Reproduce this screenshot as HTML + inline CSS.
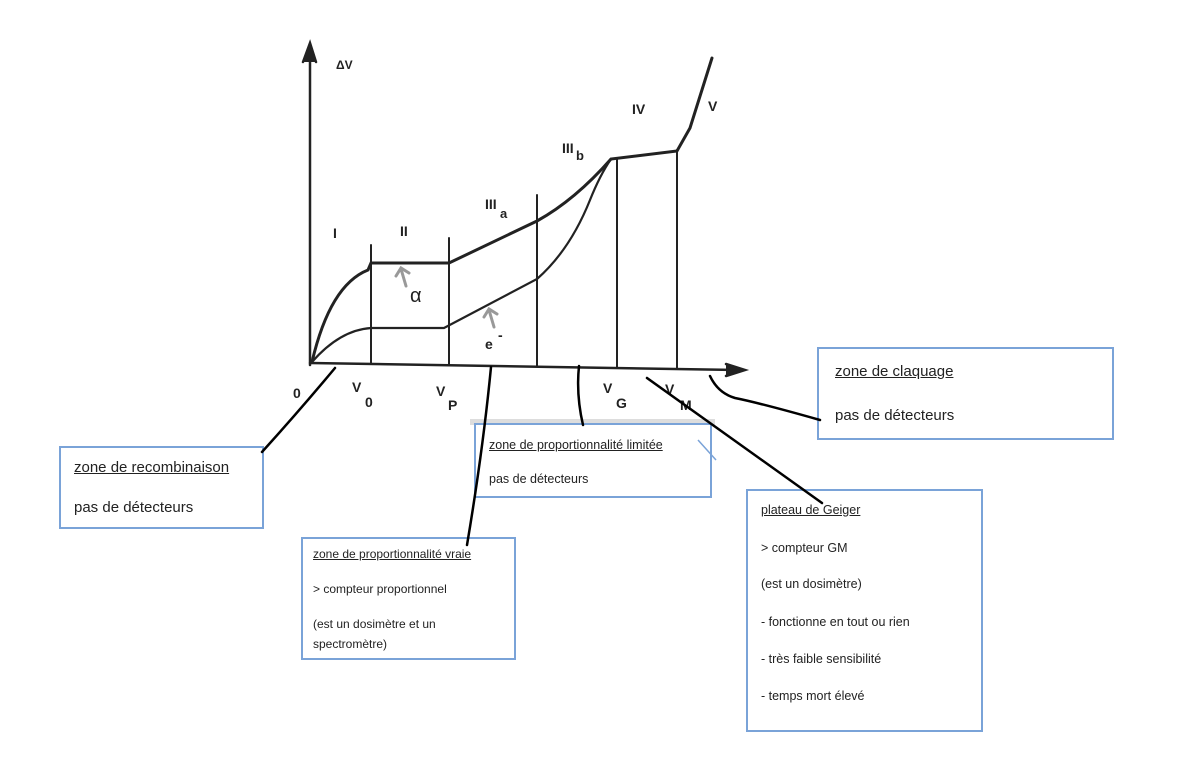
<!DOCTYPE html>
<html><head><meta charset="utf-8"><style>
html,body{margin:0;padding:0;background:#fff;}
body{width:1186px;height:758px;position:relative;overflow:hidden;font-family:"Liberation Sans",sans-serif;}
.b{position:absolute;border:2px solid #7aa3d8;background:#fff;box-sizing:border-box;color:#222;}
.b div{position:absolute;white-space:nowrap;}
.u{text-decoration:underline;}
svg{position:absolute;left:0;top:0;}
</style></head><body>
<div style="position:absolute;left:470px;top:419px;width:245px;height:6px;background:#ddd"></div>
<div class="b" style="left:59px;top:446px;width:205px;height:83px;font-size:15px">
<div class="u" style="left:13px;top:11px">zone de recombinaison</div>
<div style="left:13px;top:51px">pas de détecteurs</div></div>
<div class="b" style="left:301px;top:537px;width:215px;height:123px;font-size:12px">
<div class="u" style="left:10px;top:8px">zone de proportionnalité vraie</div>
<div style="left:10px;top:43px">&gt; compteur proportionnel</div>
<div style="left:10px;top:78px">(est un dosimètre et un</div>
<div style="left:10px;top:98px">spectromètre)</div></div>
<div class="b" style="left:474px;top:423px;width:238px;height:75px;font-size:12.5px">
<div class="u" style="left:13px;top:13px">zone de proportionnalité limitée</div>
<div style="left:13px;top:47px">pas de détecteurs</div></div>
<div class="b" style="left:817px;top:347px;width:297px;height:93px;font-size:15px">
<div class="u" style="left:16px;top:14px">zone de claquage</div>
<div style="left:16px;top:58px">pas de détecteurs</div></div>
<div class="b" style="left:746px;top:489px;width:237px;height:243px;font-size:12.5px">
<div class="u" style="left:13px;top:12px">plateau de Geiger</div>
<div style="left:13px;top:50px">&gt; compteur GM</div>
<div style="left:13px;top:86px">(est un dosimètre)</div>
<div style="left:13px;top:124px">- fonctionne en tout ou rien</div>
<div style="left:13px;top:161px">- très faible sensibilité</div>
<div style="left:13px;top:198px">- temps mort élevé</div></div>
<svg width="1186" height="758" viewBox="0 0 1186 758">
<g stroke="#222" fill="none" stroke-width="2.5" stroke-linecap="round">
<path d="M310 365 L310 47"/><path d="M303 62 L310 43 L316 62" fill="#222"/>
<path d="M310 363 L738 370"/><path d="M726 364 L745 370 L726 376" fill="#222"/>
<path d="M371 245V364M449 238V365M537 195V366M617 158V367M677 150V369" stroke-width="2"/>
<path d="M312 362 Q330 285 368 270 L371 263 L449 263 L537 221 Q575 200 611 159 L677 151 L690 128 L712 58" stroke-width="3"/>
<path d="M312 362 Q340 330 371 328 L444 328 L537 279 Q570 250 590 200 Q600 175 611 159" stroke-width="2.2"/>
</g>
<g stroke="#999" stroke-width="3" fill="none" stroke-linecap="round"><path d="M406 286 L401 269 M396 276 L401 268 L409 273"/><path d="M494 327 L489 310 M484 317 L489 309 L497 314"/></g>
<g font-family="Liberation Sans,sans-serif" font-weight="bold" fill="#222" font-size="14">
<text x="336" y="69" font-size="12">ΔV</text>
<text x="333" y="238">I</text><text x="400" y="236">II</text>
<text x="485" y="209">III</text><text x="500" y="218" font-size="13">a</text>
<text x="562" y="153">III</text><text x="576" y="160" font-size="13">b</text>
<text x="632" y="114">IV</text><text x="708" y="111">V</text>
<text x="410" y="302" font-size="20" font-weight="normal">α</text>
<text x="485" y="349">e</text><text x="498" y="340">-</text>
<text x="293" y="398">0</text>
<text x="352" y="392">V</text><text x="365" y="407">0</text>
<text x="436" y="396">V</text><text x="448" y="410">P</text>
<text x="603" y="393">V</text><text x="616" y="408">G</text>
<text x="665" y="394">V</text><text x="680" y="410">M</text>
</g>
<g stroke="#000" stroke-width="2.5" fill="none" stroke-linecap="round">
<path d="M262 452 Q300 410 335 368"/>
<path d="M467 545 Q483 450 491 367"/>
<path d="M583 425 Q576 395 579 366"/>
<path d="M822 503 L647 378"/>
<path d="M820 420 Q760 403 735 398 Q718 393 710 376"/>
</g>
<path d="M698 440 L716 460" stroke="#7aa3d8" stroke-width="1.5"/>
</svg>
</body></html>
